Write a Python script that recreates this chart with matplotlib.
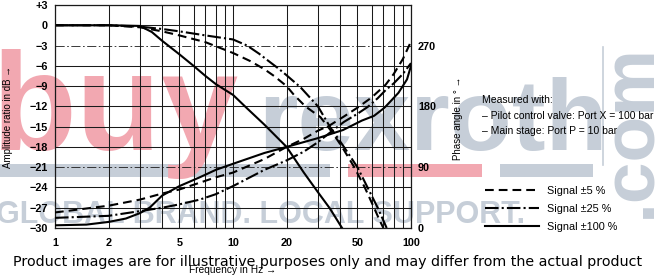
import matplotlib
matplotlib.use("Agg")
import matplotlib.pyplot as plt
from matplotlib.lines import Line2D
from matplotlib.patches import Rectangle
from matplotlib.ticker import NullFormatter, LogLocator

# ---------------- data ----------------
amp_freq_5 = [1, 2, 3, 4, 5, 7, 10, 12.5, 15, 17, 20, 22, 25.5, 31, 36, 41, 48, 55, 62, 67, 70]
amp_db_5 = [0, 0, -0.3, -0.9, -1.5, -2.5, -4.1, -5.3, -6.5, -7.5, -9.0, -10.3, -12.0, -13.6,
            -15.8, -18.0, -21.0, -24.0, -27.0, -29.0, -30.0]

amp_freq_25 = [1, 2, 3, 4, 5, 7, 10, 12, 14, 15.5, 18, 20, 24, 30, 35, 42, 50, 57, 65, 73]
amp_db_25 = [0, 0, -0.2, -0.55, -0.9, -1.5, -2.1, -3.0, -4.2, -5.1, -6.4, -7.4, -9.2, -12.0,
             -15.0, -18.0, -21.0, -24.0, -27.0, -30.0]

amp_freq_100 = [1, 2, 2.5, 3, 3.5, 4, 5, 6, 7, 8, 10, 12, 15, 20, 25, 30, 35, 41]
amp_db_100 = [0, 0, -0.05, -0.1, -1.0, -2.3, -4.3, -6.0, -7.5, -8.7, -10.3, -12.3, -14.7,
              -18.0, -21.8, -24.7, -27.1, -30.0]

ph_freq_5 = [1, 2, 3, 4, 5, 6.5, 8, 10, 15, 20, 25, 30, 35, 42, 50, 60, 72, 80, 90, 100]
ph_deg_5 = [23, 33, 42, 51, 57, 67, 75, 82, 102, 120, 132, 144, 152, 165, 178, 193, 212, 228, 250, 276]

ph_freq_25 = [1, 2, 3, 4, 5, 6.5, 8, 10, 15, 20, 25, 30, 35, 42, 50, 57, 65, 72, 80, 90, 100]
ph_deg_25 = [15, 18, 25, 30, 35, 42, 50, 62, 86, 100, 113, 127, 141, 157, 169, 179, 192, 204,
             214, 228, 244]

ph_freq_100 = [1, 1.5, 2, 2.5, 3, 3.4, 4, 5, 6.5, 8, 10, 15, 20, 30, 41.5, 53, 62, 71, 85, 95, 100]
ph_deg_100 = [4, 5, 9, 14, 22, 30, 48, 62, 75, 86, 95, 111, 120, 133, 145, 159, 166, 178, 200,
              220, 240]

series_labels = ["Signal \u00b15 %", "Signal \u00b125 %", "Signal \u00b1100 %"]

amp_ticks = [3, 0, -3, -6, -9, -12, -15, -18, -21, -24, -27, -30]
amp_tick_labels = ["+3", "0", "\u22123", "\u22126", "\u22129", "\u221212", "\u221215",
                   "\u221218", "\u221221", "\u221224", "\u221227", "\u221230"]
dashdot_grid_levels = [-3, -21]
phase_ticks = [0, 90, 180, 270]
phase_tick_labels = ["0", "90", "180", "270"]
freq_ticks = [1, 2, 5, 10, 20, 50, 100]
freq_tick_labels = ["1", "2", "5", "10", "20", "50", "100"]

note_lines = ["Measured with:",
              "\u2013 Pilot control valve: Port X = 100 bar",
              "\u2013 Main stage: Port P = 10 bar"]

# ---------------- figure ----------------
W, H = 660, 278
fig = plt.figure(figsize=(W / 100, H / 100), dpi=100, facecolor="white")


def fx(x):
    return x / W


def fy(y):
    return 1 - y / H


SANS = ["Liberation Sans", "DejaVu Sans"]
WM_PINK = "#f2a8b1"
WM_GRAY = "#c6ced8"

# ---- watermark (behind the chart) ----
fig.text(fx(-8), fy(150), "buy", fontsize=100, fontweight="bold", family=SANS,
         color=WM_PINK, ha="left", va="baseline", zorder=-5)
fig.text(fx(258), fy(150), "rexroth", fontsize=73, fontweight="bold", family=SANS,
         color=WM_GRAY, ha="left", va="baseline", zorder=-5)
fig.text(fx(631), fy(131), ".com", fontsize=54, fontweight="bold", family=SANS,
         color=WM_GRAY, rotation=90, ha="center", va="center", zorder=-5)
fig.text(fx(-4), fy(223), "GLOBAL BRAND. LOCAL SUPPORT.", fontsize=22, fontweight="bold",
         family=SANS, color=WM_GRAY, ha="left", va="baseline", zorder=-5)
for (x0, x1, c) in [(0, 330, WM_GRAY), (348, 482, WM_PINK), (500, 593, WM_GRAY)]:
    fig.add_artist(Rectangle((fx(x0), fy(177)), fx(x1) - fx(x0), fy(164) - fy(177),
                             transform=fig.transFigure, facecolor=c, edgecolor="none",
                             zorder=-6))
fig.add_artist(Line2D([fx(603), fx(603)], [fy(47), fy(165)], transform=fig.transFigure,
                      color=WM_GRAY, lw=1.2, zorder=-6))

# ---- axes ----
ax = fig.add_axes([fx(55), fy(228), fx(411) - fx(55), fy(5) - fy(228)])
ax.patch.set_alpha(0)
ax.set_xscale("log")
ax.set_xlim(1, 100)
ax.set_ylim(-30, 3)

TICK_KW = dict(fontsize=7.8, fontweight="bold", family=SANS)
ax.set_xticks(freq_ticks)
ax.set_xticklabels(freq_tick_labels, **TICK_KW)
ax.xaxis.set_minor_locator(LogLocator(base=10, subs=[2, 3, 4, 5, 6, 7, 8, 9]))
ax.xaxis.set_minor_formatter(NullFormatter())
ax.set_yticks(amp_ticks)
ax.set_yticklabels(amp_tick_labels, **TICK_KW)
ax.tick_params(axis="x", which="both", length=0, pad=7)
ax.tick_params(axis="y", which="both", length=0, pad=5)

GRID_C = "#1a1a1a"
ax.grid(True, which="both", axis="x", color=GRID_C, lw=0.75)
ax.grid(True, which="major", axis="y", color=GRID_C, lw=0.75)
for gl, val in zip(ax.get_ygridlines(), amp_ticks):
    if val in dashdot_grid_levels:
        gl.set_linestyle((0, (11, 3, 2, 3)))
        gl.set_linewidth(0.6)
for sp in ax.spines.values():
    sp.set_color(GRID_C)
    sp.set_linewidth(0.9)

DASH = (0, (4.2, 2.4))
DASHDOT = (0, (6.5, 1.5, 1.0, 1.5))
LW = 1.5
styles = [DASH, DASHDOT, "-"]

ax.plot(amp_freq_5, amp_db_5, color="black", lw=LW, linestyle=DASH)
ax.plot(amp_freq_25, amp_db_25, color="black", lw=LW, linestyle=DASHDOT)
ax.plot(amp_freq_100, amp_db_100, color="black", lw=LW, linestyle="-")

ax2 = ax.twinx()
ax2.set_ylim(0, 330)
ax2.set_yticks(phase_ticks)
ax2.set_yticklabels(phase_tick_labels, **TICK_KW)
ax2.tick_params(axis="y", length=0, pad=5)
for sp in ax2.spines.values():
    sp.set_visible(False)
ax2.plot(ph_freq_5, ph_deg_5, color="black", lw=LW, linestyle=DASH)
ax2.plot(ph_freq_25, ph_deg_25, color="black", lw=LW, linestyle=DASHDOT)
ax2.plot(ph_freq_100, ph_deg_100, color="black", lw=LW, linestyle="-")

# ---- axis labels ----
fig.text(fx(8), fy(117), "Amplitude ratio in dB \u2192", rotation=90, ha="center",
         va="center", fontsize=7, family=SANS)
fig.text(fx(458), fy(118), "Phase angle in \u00b0 \u2192", rotation=90, ha="center",
         va="center", fontsize=7, family=SANS)
fig.text(fx(233), fy(270), "Frequency in Hz \u2192", ha="center", va="center",
         fontsize=7.3, family=SANS)

# ---- measurement note ----
for i, line in enumerate(note_lines):
    fig.text(fx(482), fy(100 + 15.5 * i), line, ha="left", va="center", fontsize=7.5,
             family=SANS)

# ---- legend ----
handles = [Line2D([], [], color="black", lw=LW, linestyle=s) for s in styles]
fig.legend(handles, series_labels, loc="upper left", bbox_to_anchor=(fx(485), fy(186)),
           frameon=False, prop={"family": SANS, "size": 7.8},
           handlelength=5.0, handletextpad=0.7, labelspacing=0.72, borderpad=0,
           borderaxespad=0)

# ---- disclaimer ----
fig.text(fx(328), fy(262), "Product images are for illustrative purposes only and may "
         "differ from the actual product", ha="center", va="center", fontsize=10.3,
         family="DejaVu Sans", color="black", zorder=10)

fig.savefig("out.png", dpi=100, facecolor="white")
